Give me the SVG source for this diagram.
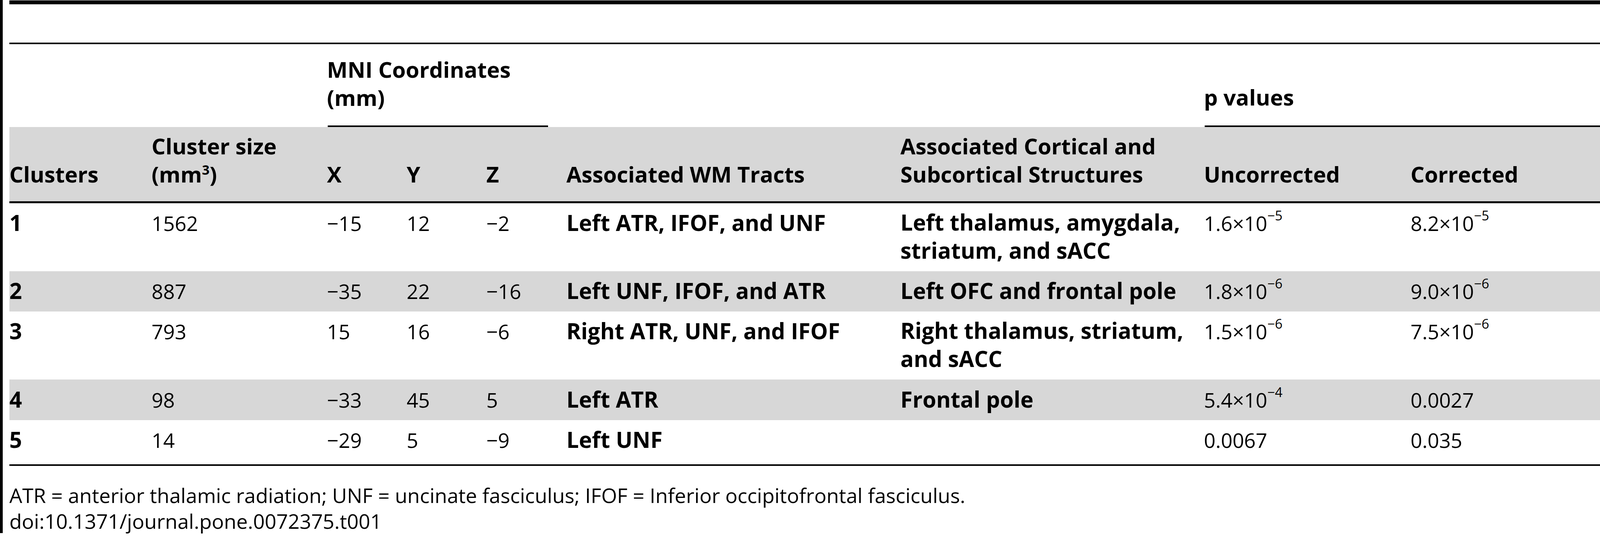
<svg xmlns="http://www.w3.org/2000/svg" width="4103" height="1374" viewBox="0 0 4103 1374">
<style>
text{font-family:"Open Sans","Noto Sans","DejaVu Sans",sans-serif;fill:#000}
.b{font-weight:700;font-size:56px}
.d{font-weight:700;font-size:56.5px}
.r{font-weight:400;font-size:52px}
.sup{font-size:34px}
.band{fill:#d7d7d7}
.rule{fill:#000}
</style>
<rect x="0" y="0" width="4103" height="1374" fill="#fff"/>
<g id="bands">
<rect class="band" x="24" y="325" width="4079" height="190"/>
<rect class="band" x="24" y="694" width="4079" height="103"/>
<rect class="band" x="24" y="971" width="4079" height="104"/>
</g>
<g id="rules">
<rect class="rule" x="0" y="0" width="7" height="1364"/>
<rect class="rule" x="24" y="1" width="4079" height="10"/>
<rect class="rule" x="24" y="109" width="4079" height="4"/>
<rect class="rule" x="839" y="321" width="564" height="4"/>
<rect class="rule" x="3084" y="321" width="1019" height="4"/>
<rect class="rule" x="24" y="515" width="4079" height="5"/>
<rect class="rule" x="24" y="1188" width="4079" height="4"/>
</g>
<g id="header">
<text class="b" x="837" y="199">MNI Coordinates<tspan x="837" y="271">(mm)</tspan></text>
<text class="b" x="3082" y="270">p values</text>
<text class="b" x="24" y="467">Clusters</text>
<text class="b" x="388" y="395">Cluster size<tspan x="388" y="467">(mm</tspan><tspan class="sup" dy="-20">3</tspan><tspan dy="20">)</tspan></text>
<text class="b" x="837" y="467">X</text>
<text class="b" x="1041" y="467">Y</text>
<text class="b" x="1245" y="467">Z</text>
<text class="b" x="1450" y="467">Associated WM Tracts</text>
<text class="b" x="2305" y="395">Associated Cortical and<tspan x="2305" y="467">Subcortical Structures</tspan></text>
<text class="b" x="3082" y="467">Uncorrected</text>
<text class="b" x="3611" y="467">Corrected</text>
</g>
<g id="row1">
<text class="d" x="24" y="591">1</text>
<text class="r" x="388" y="591">1562</text>
<text class="r" x="837" y="591">−15</text>
<text class="r" x="1041" y="591">12</text>
<text class="r" x="1245" y="591">−2</text>
<text class="d" x="1450" y="591">Left ATR, IFOF, and UNF</text>
<text class="d" x="2305" y="590">Left thalamus, amygdala,<tspan x="2305" y="662">striatum, and sACC</tspan></text>
<text class="r" x="3082" y="591">1.6×10<tspan class="sup" dy="-27">−5</tspan></text>
<text class="r" x="3611" y="591">8.2×10<tspan class="sup" dy="-27">−5</tspan></text>
</g>
<g id="row2">
<text class="d" x="24" y="765">2</text>
<text class="r" x="388" y="765">887</text>
<text class="r" x="837" y="765">−35</text>
<text class="r" x="1041" y="765">22</text>
<text class="r" x="1245" y="765">−16</text>
<text class="d" x="1450" y="765">Left UNF, IFOF, and ATR</text>
<text class="d" x="2305" y="765">Left OFC and frontal pole</text>
<text class="r" x="3082" y="765">1.8×10<tspan class="sup" dy="-27">−6</tspan></text>
<text class="r" x="3611" y="765">9.0×10<tspan class="sup" dy="-27">−6</tspan></text>
</g>
<g id="row3">
<text class="d" x="24" y="868">3</text>
<text class="r" x="388" y="868">793</text>
<text class="r" x="837" y="868">15</text>
<text class="r" x="1041" y="868">16</text>
<text class="r" x="1245" y="868">−6</text>
<text class="d" x="1450" y="868">Right ATR, UNF, and IFOF</text>
<text class="d" x="2305" y="867">Right thalamus, striatum,<tspan x="2305" y="939">and sACC</tspan></text>
<text class="r" x="3082" y="868">1.5×10<tspan class="sup" dy="-27">−6</tspan></text>
<text class="r" x="3611" y="868">7.5×10<tspan class="sup" dy="-27">−6</tspan></text>
</g>
<g id="row4">
<text class="d" x="24" y="1043">4</text>
<text class="r" x="388" y="1043">98</text>
<text class="r" x="837" y="1043">−33</text>
<text class="r" x="1041" y="1043">45</text>
<text class="r" x="1245" y="1043">5</text>
<text class="d" x="1450" y="1043">Left ATR</text>
<text class="d" x="2305" y="1043">Frontal pole</text>
<text class="r" x="3082" y="1043">5.4×10<tspan class="sup" dy="-27">−4</tspan></text>
<text class="r" x="3611" y="1043">0.0027</text>
</g>
<g id="row5">
<text class="d" x="24" y="1146">5</text>
<text class="r" x="388" y="1146">14</text>
<text class="r" x="837" y="1146">−29</text>
<text class="r" x="1041" y="1146">5</text>
<text class="r" x="1245" y="1146">−9</text>
<text class="d" x="1450" y="1146">Left UNF</text>
<text class="r" x="3082" y="1146">0.0067</text>
<text class="r" x="3611" y="1146">0.035</text>
</g>
<g id="footer">
<text class="r" x="24" y="1287">ATR = anterior thalamic radiation; UNF = uncinate fasciculus; IFOF = Inferior occipitofrontal fasciculus.</text>
<text class="r" x="24" y="1353">doi:10.1371/journal.pone.0072375.t001</text>
</g>
</svg>
